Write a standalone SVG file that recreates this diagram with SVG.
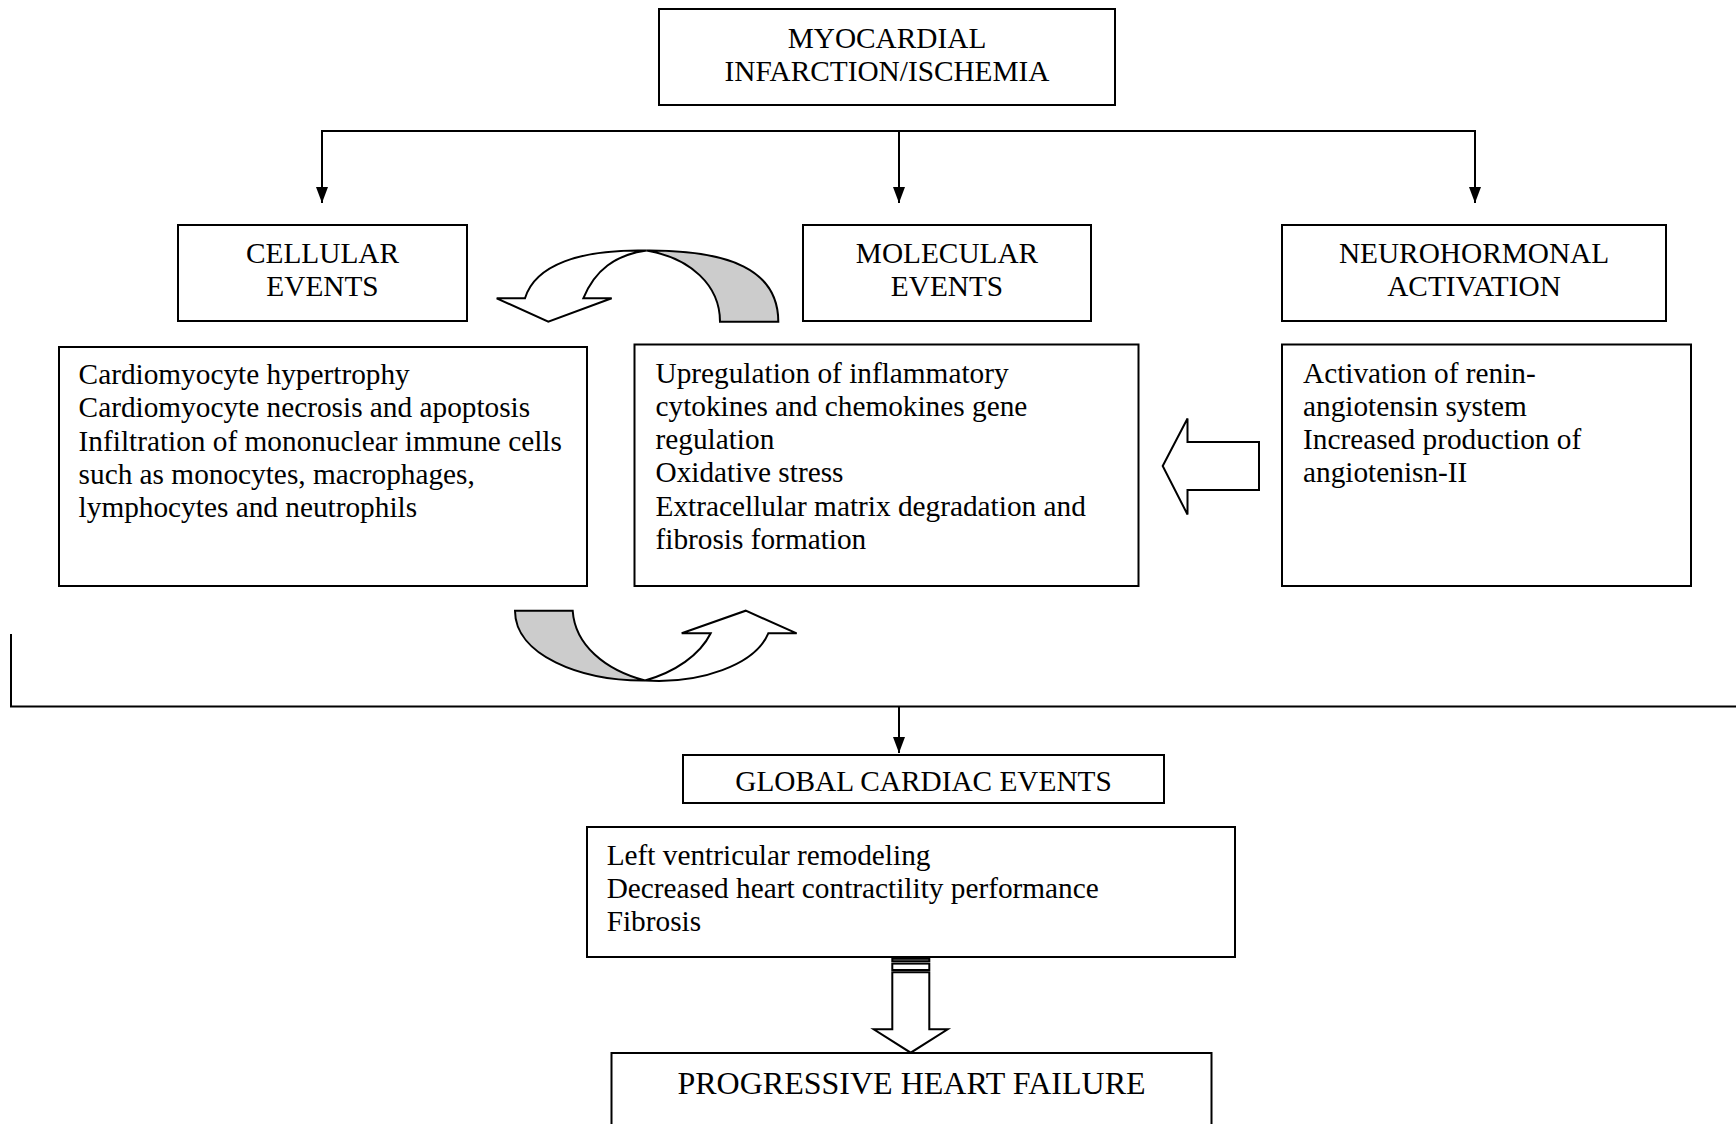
<svg xmlns="http://www.w3.org/2000/svg" width="1736" height="1124" viewBox="0 0 1736 1124">
<style>
  .box{fill:#fff;stroke:#000;stroke-width:2}
  .ln{fill:none;stroke:#000;stroke-width:2}
  .t{font-family:"Liberation Serif","Times New Roman",serif;font-size:29.3px;fill:#000}
  .c{text-anchor:middle}
  .blk{fill:#fff;stroke:#000;stroke-width:2;stroke-linejoin:miter}
  .grey{fill:#cccccc;stroke:#000;stroke-width:2}
</style>
<defs>
  <marker id="ah" viewBox="0 0 16 12" refX="16" refY="6" markerWidth="16" markerHeight="12" markerUnits="userSpaceOnUse" orient="auto">
    <path d="M0,0 L16,6 L0,12 Z" fill="#000"/>
  </marker>
</defs>
<rect width="1736" height="1124" fill="#fff"/>

<g id="connectors">
  <path class="ln" d="M322,131 H1475"/>
  <path class="ln" d="M322,130 V203" marker-end="url(#ah)"/>
  <path class="ln" d="M899,130 V203" marker-end="url(#ah)"/>
  <path class="ln" d="M1475,130 V203" marker-end="url(#ah)"/>
  <path class="ln" d="M11,634 V706.5 H1736"/>
  <path class="ln" d="M899,706 V753" marker-end="url(#ah)"/>
  <g id="curved-top">
    <path class="grey" d="M646.7,250.5 C730,250 778.3,270 778.3,321.7 L720,321.7 C720,285 690,258 646.7,250.5 Z"/>
    <path class="blk" d="M525,298.3 C535,265 580,249 646.7,250.5 C615,255 595,270 583.3,298.3 L611.7,298.3 L548.3,321.7 L496.7,298.3 Z"/>
  </g>
  <g id="curved-bottom">
    <path class="grey" d="M515,610.7 L572.7,610.7 C575,645 605,670 645,680.5 C580,681 515,655 515,610.7 Z"/>
    <path class="blk" d="M645,680.5 C700,684 755,665 768.3,633.3 L796.7,633.3 L745.7,610.7 L681.7,633.3 L710.7,633.3 C700,655 675,672 645,680.5 Z"/>
  </g>
  <polygon id="block-left" class="blk" points="1162.7,466 1187.5,418.5 1187.5,442 1259,442 1259,490 1187.5,490 1187.5,514.5"/>
  <g id="block-down">
    <rect class="blk" x="892.3" y="958.8" width="37" height="2.4"/>
    <rect class="blk" x="892.3" y="963.6" width="37" height="6.4"/>
    <polygon class="blk" points="892.3,972.3 929.3,972.3 929.3,1029.3 947.7,1029.3 910.7,1052.7 873.7,1029.3 892.3,1029.3"/>
  </g>
</g>

<g id="n-mi">
  <rect class="box" x="659" y="9" width="456" height="96"/>
  <text class="t c" x="887" y="48">MYOCARDIAL</text>
  <text class="t c" x="887" y="81">INFARCTION/ISCHEMIA</text>
</g>
<g id="n-cellular">
  <rect class="box" x="178" y="225" width="289" height="96"/>
  <text class="t c" x="322.5" y="263">CELLULAR</text>
  <text class="t c" x="322.5" y="296">EVENTS</text>
</g>
<g id="n-molecular">
  <rect class="box" x="803" y="225" width="288" height="96"/>
  <text class="t c" x="947" y="263">MOLECULAR</text>
  <text class="t c" x="947" y="296">EVENTS</text>
</g>
<g id="n-neuro">
  <rect class="box" x="1282" y="225" width="384" height="96"/>
  <text class="t c" x="1474" y="263">NEUROHORMONAL</text>
  <text class="t c" x="1474" y="296">ACTIVATION</text>
</g>
<g id="n-cellular-detail">
  <rect class="box" x="59" y="347" width="528" height="239"/>
  <text class="t" x="78.6" y="384">Cardiomyocyte hypertrophy</text>
  <text class="t" x="78.6" y="417.3">Cardiomyocyte necrosis and apoptosis</text>
  <text class="t" x="78.6" y="450.6">Infiltration of mononuclear immune cells</text>
  <text class="t" x="78.6" y="484">such as monocytes, macrophages,</text>
  <text class="t" x="78.6" y="517.2">lymphocytes and neutrophils</text>
</g>
<g id="n-molecular-detail">
  <rect class="box" x="634.5" y="344.5" width="504" height="241.5"/>
  <text class="t" x="655.5" y="382.5">Upregulation of inflammatory</text>
  <text class="t" x="655.5" y="415.8">cytokines and chemokines gene</text>
  <text class="t" x="655.5" y="449">regulation</text>
  <text class="t" x="655.5" y="482.3">Oxidative stress</text>
  <text class="t" x="655.5" y="515.6">Extracellular matrix degradation and</text>
  <text class="t" x="655.5" y="549">fibrosis formation</text>
</g>
<g id="n-neuro-detail">
  <rect class="box" x="1282" y="344.5" width="409" height="241.5"/>
  <text class="t" x="1303" y="382.5">Activation of renin-</text>
  <text class="t" x="1303" y="415.8">angiotensin system</text>
  <text class="t" x="1303" y="449">Increased production of</text>
  <text class="t" x="1303" y="482.3">angiotenisn-II</text>
</g>
<g id="n-global">
  <rect class="box" x="683" y="755" width="481" height="48"/>
  <text class="t c" x="923.5" y="790.5">GLOBAL CARDIAC EVENTS</text>
</g>
<g id="n-lv">
  <rect class="box" x="587" y="827" width="648" height="130"/>
  <text class="t" x="606.7" y="864.7">Left ventricular remodeling</text>
  <text class="t" x="606.7" y="898">Decreased heart contractility performance</text>
  <text class="t" x="606.7" y="931.2">Fibrosis</text>
</g>
<g id="n-phf">
  <rect class="box" x="611.5" y="1053" width="600" height="100"/>
  <text class="t c" x="911.5" y="1094" style="font-size:32px">PROGRESSIVE HEART FAILURE</text>
</g>
</svg>
